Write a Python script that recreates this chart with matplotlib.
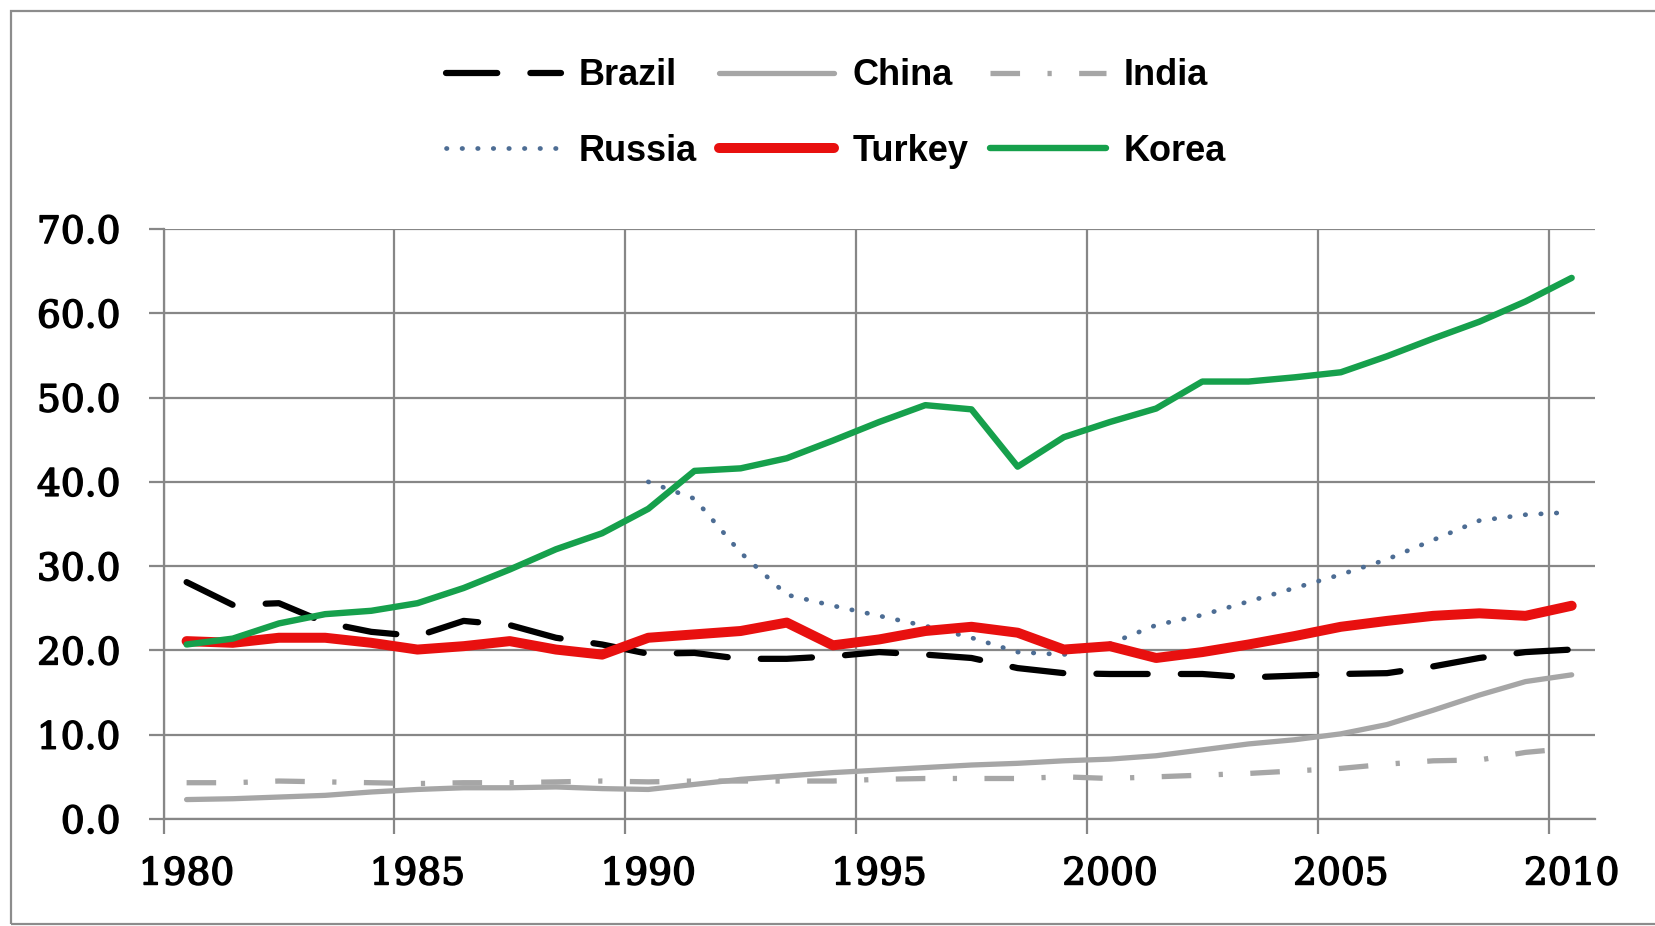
import numpy as np
import matplotlib
matplotlib.use("Agg")
import matplotlib.pyplot as plt
import matplotlib.patheffects as pe
from matplotlib.patches import Rectangle

# data (share values, 1980-2010)
years = list(range(1980, 2011))

brazil = [28.1, 25.4, 25.6, 23.3, 22.2, 21.7, 23.5, 23.0, 21.5, 20.7,
          19.6, 19.7, 19.0, 19.0, 19.3, 19.8, 19.5, 19.1, 17.9, 17.3,
          17.2, 17.2, 17.2, 16.8, 17.0, 17.2, 17.3, 18.1, 19.1, 19.8, 20.1]
china = [2.3, 2.4, 2.6, 2.8, 3.2, 3.5, 3.7, 3.7, 3.8, 3.6,
         3.5, 4.1, 4.7, 5.1, 5.5, 5.8, 6.1, 6.4, 6.6, 6.9,
         7.1, 7.5, 8.2, 8.9, 9.4, 10.1, 11.2, 12.9, 14.7, 16.3, 17.1]
india = [4.3, 4.3, 4.5, 4.4, 4.3, 4.2, 4.3, 4.3, 4.4, 4.5,
         4.4, 4.5, 4.5, 4.5, 4.5, 4.7, 4.8, 4.8, 4.8, 5.0,
         4.8, 5.0, 5.2, 5.4, 5.7, 6.0, 6.5, 6.9, 7.0, 7.9, 8.4]
russia = [np.nan] * 10 + [40.0, 38.0, 31.6, 26.6, 25.3, 24.1, 22.9, 21.5, 19.8, 19.5,
                          20.8, 23.0, 24.2, 25.8, 27.4, 29.0, 30.8, 33.1, 35.4, 36.1, 36.4]
turkey = [21.1, 20.9, 21.5, 21.5, 20.9, 20.1, 20.5, 21.1, 20.1, 19.5,
          21.5, 21.9, 22.3, 23.3, 20.6, 21.3, 22.3, 22.8, 22.1, 20.1,
          20.5, 19.1, 19.8, 20.7, 21.7, 22.8, 23.5, 24.1, 24.4, 24.1, 25.3]
korea = [20.7, 21.4, 23.2, 24.3, 24.7, 25.6, 27.4, 29.6, 32.0, 33.9,
         36.8, 41.3, 41.6, 42.8, 44.9, 47.1, 49.1, 48.6, 41.8, 45.3,
         47.1, 48.7, 51.9, 51.9, 52.4, 53.0, 54.9, 57.0, 59.0, 61.4, 64.2]

label_years = [1980, 1985, 1990, 1995, 2000, 2005, 2010]
yticks = [0, 10, 20, 30, 40, 50, 60, 70]

fig = plt.figure(figsize=(16.55, 9.26), dpi=100)
ax = fig.add_axes([0.0988, 0.1156, 0.9636 - 0.0988, 0.7527 - 0.1156])

grid_c = '#878787'

l_br, = ax.plot(years, brazil, color='black', lw=4.5, dashes=(8.2, 5.3),
                dash_capstyle='round', label='Brazil')
l_ch, = ax.plot(years, china, color='#a6a6a6', lw=3.8, solid_capstyle='round',
                label='China')
l_in, = ax.plot(years, india, color='#a6a6a6', lw=3.8, dashes=(5.6, 5.2, 0.8, 5.2),
                label='India')
l_ru, = ax.plot(years, russia, color='#4d6d94', lw=3.4, dashes=(0.1, 3.2),
                dash_capstyle='round', label='Russia')
l_tu, = ax.plot(years, turkey, color='#e8100f', lw=7.2, solid_capstyle='round',
                solid_joinstyle='round', label='Turkey')
l_ko, = ax.plot(years, korea, color='#16a04c', lw=4.6, solid_capstyle='round',
                label='Korea')

ax.set_xlim(1979.5, 2010.5)
ax.set_ylim(0, 70)

# gridlines sit on category boundaries, labels at category centres
ax.set_xticks([y - 0.5 for y in label_years])
ax.set_xticklabels([])
ax.set_xticks(label_years, minor=True)
ax.set_xticklabels([str(y) for y in label_years], minor=True)
ax.set_yticks(yticks)
ax.set_yticklabels(['%.1f' % v for v in yticks])

ax.grid(True, which='major', color=grid_c, lw=1.6)
ax.set_axisbelow(True)

ax.tick_params(axis='x', which='major', length=11, width=1.6, color=grid_c, direction='out')
ax.tick_params(axis='x', which='minor', length=0, pad=27, labelsize=27)
ax.tick_params(axis='y', which='major', length=11, width=1.6, color=grid_c,
               direction='out', pad=20, labelsize=27)
bold_fx = [pe.withStroke(linewidth=1.1, foreground='black')]
for lab in ax.get_xticklabels(minor=True) + ax.get_yticklabels():
    lab.set_family('DejaVu Serif')
    lab.set_path_effects(bold_fx)

for s in ['top', 'right']:
    ax.spines[s].set_visible(False)
for s in ['left', 'bottom']:
    ax.spines[s].set_color(grid_c)
    ax.spines[s].set_linewidth(1.6)

handles = [l_br, l_ru, l_ch, l_tu, l_in, l_ko]
fig.legend(handles, [h.get_label() for h in handles], ncol=3, loc='center',
           bbox_to_anchor=(0.505, 0.8772), frameon=False,
           prop={'family': ['Liberation Sans', 'DejaVu Sans'], 'weight': 'bold', 'size': 26},
           handlelength=3.2, handletextpad=0.5, columnspacing=0.6, labelspacing=1.12)

# outer chart-area border
fig.add_artist(Rectangle((11 / 1655, 2 / 926), 1.0, 1 - 13 / 926, transform=fig.transFigure,
                         fill=False, edgecolor='#8c8c8c', lw=1.6))

fig.savefig('out.png', dpi=100)
